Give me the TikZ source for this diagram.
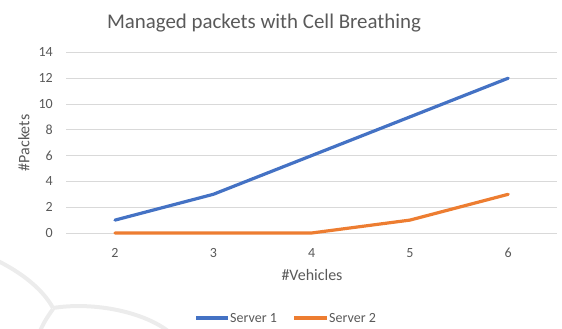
\documentclass[tikz,border=0pt]{standalone}
\usepackage{fontspec}
\setmainfont{Carlito}
\usepackage{tikz}
\usetikzlibrary{positioning}
\definecolor{textgray}{HTML}{595959}
\definecolor{gridgray}{HTML}{D9D9D9}
\definecolor{markgray}{HTML}{ECECEC}
\definecolor{serverblue}{HTML}{4472C4}
\definecolor{serverorange}{HTML}{ED7D31}

\begin{document}
\begin{tikzpicture}[
    x=1pt, y=-1pt,
    grid/.style={draw=gridgray, line width=0.8pt},
    ticklab/.style={font=\fontsize{14}{16}\selectfont, text=textgray, inner sep=0pt},
    axislab/.style={font=\fontsize{16}{19}\selectfont, text=textgray, inner sep=0pt},
    series/.style={line width=3.2pt, line cap=round, line join=round},
    plotarea/.style={shift={(-81.6,233)}, x=98.3pt, y=12.9pt}
]
  \useasboundingbox (0,0) rectangle (562,329);

  % faint watermark arcs
  \draw[markgray, line width=4pt] (-2,261) .. controls (20,272) and (42,288) .. (53,308);
  \draw[markgray, line width=4pt] (53,308) .. controls (90,302) and (140,310) .. (168,331);
  \draw[markgray, line width=4pt] (53,309) .. controls (48,316) and (44,322) .. (40,331);

  \node[font=\fontsize{20.9}{24}\selectfont, text=textgray, inner sep=0pt] (title) at (264,23) {Managed packets with Cell Breathing};

  % grid
  \draw[grid] (66,233) -- (557,233);
  \draw[grid] (66,207.2) -- (557,207.2);
  \draw[grid] (66,181.4) -- (557,181.4);
  \draw[grid] (66,155.6) -- (557,155.6);
  \draw[grid] (66,129.8) -- (557,129.8);
  \draw[grid] (66,104) -- (557,104);
  \draw[grid] (66,78.2) -- (557,78.2);
  \draw[grid] (66,52.4) -- (557,52.4);

  % y ticks
  \node[ticklab, anchor=east] (y0) at (53,233) {0};
  \node[ticklab, anchor=east] (y2) at (53,207.2) {2};
  \node[ticklab, anchor=east] (y4) at (53,181.4) {4};
  \node[ticklab, anchor=east] (y6) at (53,155.6) {6};
  \node[ticklab, anchor=east] (y8) at (53,129.8) {8};
  \node[ticklab, anchor=east] (y10) at (53,104) {10};
  \node[ticklab, anchor=east] (y12) at (53,78.2) {12};
  \node[ticklab, anchor=east] (y14) at (53,52.4) {14};

  % x ticks
  \node[ticklab] (x2) at (115,253) {2};
  \node[ticklab] (x3) at (213.3,253) {3};
  \node[ticklab] (x4) at (311.6,253) {4};
  \node[ticklab] (x5) at (409.9,253) {5};
  \node[ticklab] (x6) at (508.2,253) {6};

  \node[axislab] (xlabel) at (312,275) {\#Vehicles};
  \node[axislab, rotate=90] (ylabel) at (24,143) {\#Packets};

  % data
  \begin{scope}[plotarea]
    \draw[series, serverorange] (2,0) -- (3,0) -- (4,0) -- (5,1) -- (6,3);
    \draw[series, serverblue] (2,1) -- (3,3) -- (4,6) -- (5,9) -- (6,12);
  \end{scope}

  % legend
  \coordinate (l1a) at (196,318);
  \coordinate (l1b) at (228,318);
  \draw[series, serverblue, line cap=butt] (l1a) -- (l1b);
  \node[ticklab, right=2pt of l1b] (leg1) {Server 1};
  \coordinate (l2a) at (294,318);
  \coordinate (l2b) at (327,318);
  \draw[series, serverorange, line cap=butt] (l2a) -- (l2b);
  \node[ticklab, right=2pt of l2b] (leg2) {Server 2};
\end{tikzpicture}
\end{document}
